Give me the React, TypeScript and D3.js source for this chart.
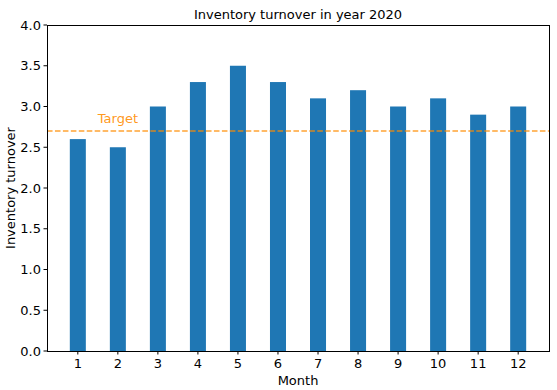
import React from "react";
import * as d3 from "d3";

const months = [1, 2, 3, 4, 5, 6, 7, 8, 9, 10, 11, 12];
const turnover = [2.6, 2.5, 3.0, 3.3, 3.5, 3.3, 3.1, 3.2, 3.0, 3.1, 2.9, 3.0];
const yTicks = [0, 0.5, 1, 1.5, 2, 2.5, 3, 3.5, 4];
const target = 2.7;
const title = "Inventory turnover in year 2020";
const xLabel = "Month";
const yLabel = "Inventory turnover";
const targetLabel = "Target";

export default function App() {
  const W = 557, H = 390;
  const left = 47, right = 549, top = 25, bottom = 351;
  const x = d3.scaleLinear().domain([0.23, 12.77]).range([left, right]);
  const y = d3.scaleLinear().domain([0, 4]).range([bottom, top]);
  const barW = x(0.4) - x(0);
  const font = "DejaVu Sans, sans-serif";
  const orange = "#ff8c00";
  return (
    <svg width={W} height={H} style={{ position: "absolute", left: 0, top: 0 }} fontFamily={font}>
      <rect x={0} y={0} width={W} height={H} fill="#fff" />
      {months.map((m, i) => (
        <rect key={m} x={x(m) - barW / 2} y={y(turnover[i])} width={barW} height={y(0) - y(turnover[i])} fill="#1f77b4" />
      ))}
      <line x1={left} x2={right} y1={y(target)} y2={y(target)} stroke={orange} strokeOpacity={0.8} strokeWidth={1.5} strokeDasharray="5.55,2.4" />
      <text x={x(1.5)} y={y(target) - 8} fill={orange} fillOpacity={0.9} fontSize={13}>{targetLabel}</text>
      <rect x={left} y={top} width={right - left} height={bottom - top} fill="none" stroke="#000" strokeWidth={1} shapeRendering="crispEdges" />
      {yTicks.map((t) => (
        <g key={t}>
          <line x1={left - 3.5} x2={left} y1={y(t)} y2={y(t)} stroke="#000" />
          <text x={left - 6} y={y(t)} dy="0.35em" textAnchor="end" fontSize={13}>{t.toFixed(1)}</text>
        </g>
      ))}
      {months.map((m) => (
        <g key={m}>
          <line x1={x(m)} x2={x(m)} y1={bottom} y2={bottom + 3.5} stroke="#000" />
          <text x={x(m)} y={bottom + 17} textAnchor="middle" fontSize={13}>{m}</text>
        </g>
      ))}
      <text x={(left + right) / 2} y={19} textAnchor="middle" fontSize={13}>{title}</text>
      <text x={(left + right) / 2} y={385} textAnchor="middle" fontSize={13}>{xLabel}</text>
      <text transform={`translate(15,${(top + bottom) / 2}) rotate(-90)`} textAnchor="middle" fontSize={13}>{yLabel}</text>
    </svg>
  );
}
